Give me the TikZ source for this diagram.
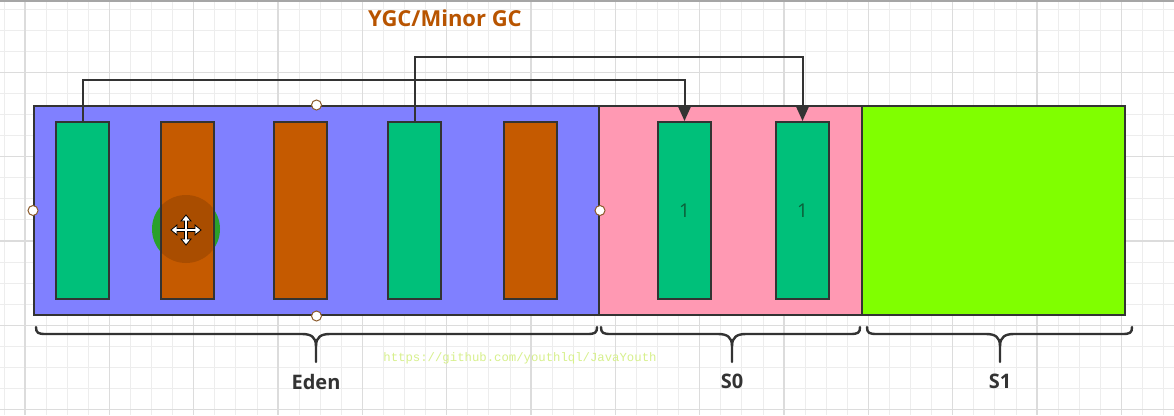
\documentclass[tikz,border=0pt]{standalone}
\usepackage{fontspec}
\setmainfont{Open Sans}
\newfontfamily\urlfont{Liberation Mono}
\usetikzlibrary{arrows.meta}
\definecolor{edenc}{HTML}{8080FF}
\definecolor{sozc}{HTML}{FF99B3}
\definecolor{sonc}{HTML}{80FF00}
\definecolor{objg}{HTML}{00C07A}
\definecolor{objo}{HTML}{C55A00}
\definecolor{edgec}{HTML}{333333}
\definecolor{titlec}{HTML}{B85400}
\definecolor{urlc}{HTML}{D7F08C}
\definecolor{onec}{HTML}{0B5E38}
\definecolor{handc}{HTML}{8B5A2B}
\definecolor{gminor}{HTML}{EDEDED}
\definecolor{gmajor}{HTML}{DCDCDC}
\definecolor{hlgreen}{HTML}{2AA02A}
\tikzset{
  area/.style={draw=edgec, line width=2pt, minimum height=209pt, inner sep=0pt},
  obj/.style={draw=edgec, line width=2pt, minimum width=53pt, minimum height=177pt, inner sep=0pt, font=\fontsize{19}{19}\selectfont, text=onec},
  link/.style={draw=edgec, line width=2pt, -{Triangle[length=14pt,width=12pt]}},
  handle/.style={circle, draw=handc, fill=white, line width=1pt, minimum size=10pt, inner sep=0pt},
  bracec/.style={draw=edgec, line width=2.4pt, line cap=round, line join=round},
  lbl/.style={font=\bfseries\fontsize{20}{20}\selectfont, text=edgec}
}
\newcommand\mybrace[3]{%
  \draw[bracec] (#1,327) .. controls (#1,333) and ({#1+2},334) .. ({#1+10},334)
     -- ({#3-14},334) .. controls ({#3-5},334) and (#3,337) .. (#3,346) -- (#3,362);
  \draw[bracec] (#2,327) .. controls (#2,333) and ({#2-2},334) .. ({#2-10},334)
     -- ({#3+14},334) .. controls ({#3+5},334) and (#3,337) .. (#3,346);
}
\begin{document}
\begin{tikzpicture}[x=1pt,y=-1pt]
\useasboundingbox (0,0) rectangle (1174,415);
\fill[white] (0,0) rectangle (1174,415);
% grid
\foreach \i in {0,...,55} \draw[gminor, line width=1pt] ({4+21.083*\i},0) -- ({4+21.083*\i},415);
\foreach \i in {0,...,19} \draw[gminor, line width=1pt] (0,{9+21.083*\i}) -- (1174,{9+21.083*\i});
\foreach \i in {0,...,13} \draw[gmajor, line width=1.3pt] ({25+84.333*\i},0) -- ({25+84.333*\i},415);
\foreach \i in {0,...,4} \draw[gmajor, line width=1.3pt] (0,{72.2+84.333*\i}) -- (1174,{72.2+84.333*\i});
\fill[gray!70] (0,0) rectangle (1174,2);
% title
\node[font=\bfseries\fontsize{22}{22}\selectfont, text=titlec] (title) at (445,18) {YGC/Minor GC};
% areas
\node[area, fill=edenc, minimum width=565pt] (eden) at (316.5,210.5) {};
\node[area, fill=sozc, minimum width=263pt] (s0) at (730.5,210.5) {};
\node[area, fill=sonc, minimum width=263pt] (s1) at (993.5,210.5) {};
% eden objects
\node[obj, fill=objg] (e1) at (82.5,210.5) {};
\fill[hlgreen] (186,229) circle (34);
\node[obj, fill=objo] (e2) at (187,210.5) {};
\begin{scope}
  \clip (161.5,123) rectangle (212.5,298);
  \fill[black, opacity=0.14] (186,229) circle (34);
\end{scope}
\node[obj, fill=objo] (e3) at (300.5,210.5) {};
\node[obj, fill=objg] (e4) at (414.5,210.5) {};
\node[obj, fill=objo] (e5) at (530.5,210.5) {};
% s0 objects
\node[obj, fill=objg] (sa) at (684.5,210.5) {1};
\node[obj, fill=objg] (sb) at (802.5,210.5) {1};
% links
\coordinate (j1) at (0,80);
\coordinate (j2) at (0,56.5);
\draw[link] (e1.north) -- (e1.north |- j1) -| (sa.north);
\draw[link] (e4.north) -- (e4.north |- j2) -| (sb.north);
% handles
\node[handle] (h1) at (eden.north) {};
\node[handle] (h2) at (eden.west) {};
\node[handle] (h3) at (eden.east) {};
\node[handle] (h4) at (eden.south) {};
% move cursor
\begin{scope}[shift={(186,230)}]
\filldraw[fill=white, draw=black, line width=0.8pt, line join=miter]
  (1.5,1.5) -- (9,1.5) -- (9,5) -- (15,0) -- (9,-5) -- (9,-1.5) -- (1.5,-1.5)
  -- (1.5,-9) -- (5,-9) -- (0,-15) -- (-5,-9) -- (-1.5,-9) -- (-1.5,-1.5)
  -- (-9,-1.5) -- (-9,-5) -- (-15,0) -- (-9,5) -- (-9,1.5) -- (-1.5,1.5)
  -- (-1.5,9) -- (-5,9) -- (0,15) -- (5,9) -- (1.5,9) -- cycle;
\end{scope}
% braces
\mybrace{36}{597}{316}
\mybrace{601}{860}{732}
\mybrace{867}{1132}{1000}
% labels
\node[lbl] (leden) at (316,382) {Eden};
\node[lbl] (ls0) at (732,381) {S0};
\node[lbl] (ls1) at (1000,381) {S1};
% url
\node[font=\urlfont\fontsize{12.3}{12.3}\selectfont, text=urlc] (url) at (520,358) {https://github.com/youthlql/JavaYouth};
\end{tikzpicture}
\end{document}
